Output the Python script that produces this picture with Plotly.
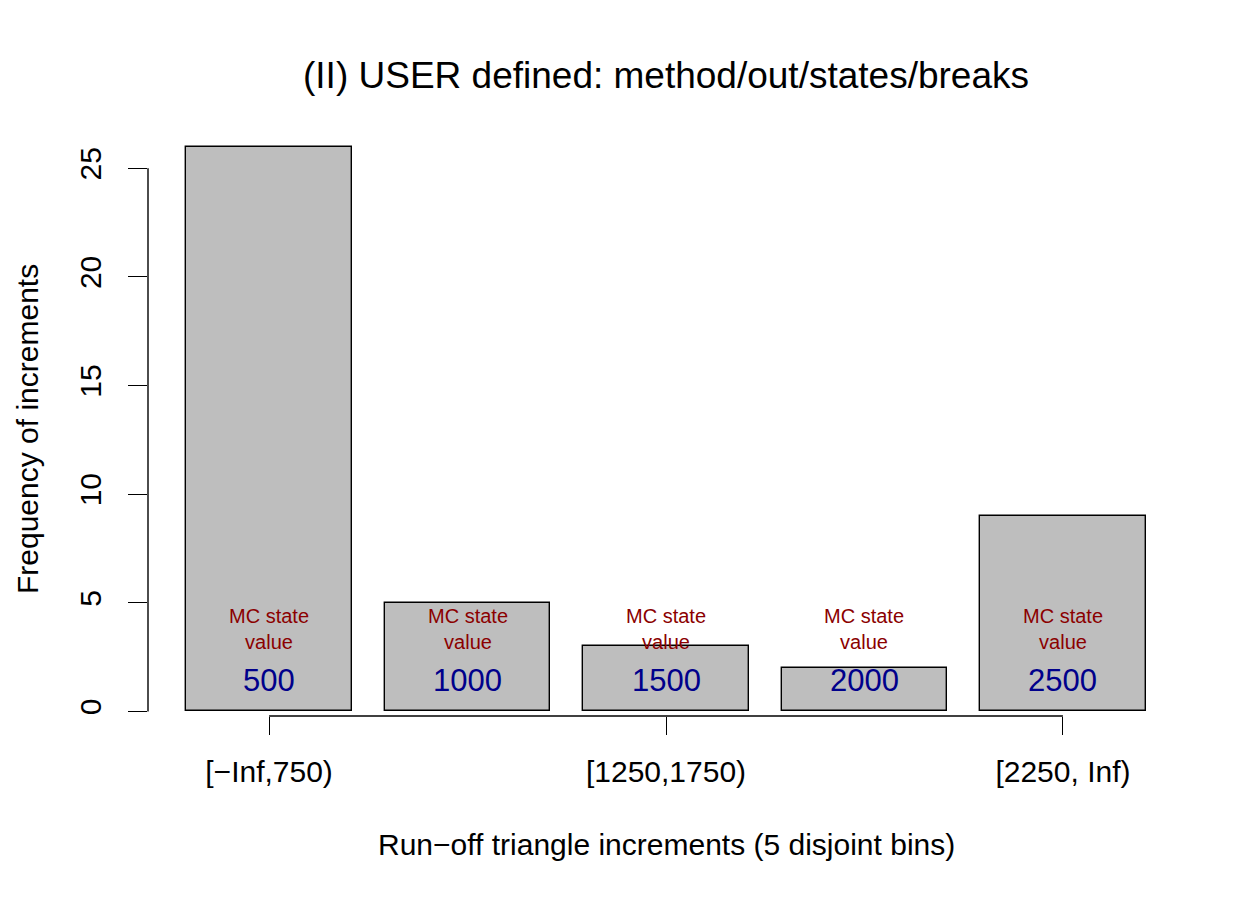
import plotly.graph_objects as go

# ---- data ----
bin_labels = ["[\u2212Inf,750)", "[750,1250)", "[1250,1750)", "[1750,2250)", "[2250, Inf)"]
frequencies = [26, 5, 3, 2, 9]
state_values = [500, 1000, 1500, 2000, 2500]
shown_tick_idx = [0, 2, 4]
y_ticks = [0, 5, 10, 15, 20, 25]

title_text = "(II) USER defined: method/out/states/breaks"
x_title = "Run\u2212off triangle increments (5 disjoint bins)"
y_title = "Frequency of increments"

FONT = "Liberation Sans, Arial, Helvetica, sans-serif"

# R barplot geometry: width 1, space 0.2
n = len(frequencies)
centers = [0.7 + 1.2 * i for i in range(n)]
xlo, xhi = 0.2, 0.2 + 1.2 * n - 0.2
xpad = (xhi - xlo) * 0.04
ymax = max(frequencies)
ypad = ymax * 0.04

W, H = 1260, 900
OFF = 8  # page offset of the rendered figure
ml, mr, mt, mb = 148 - OFF, 76 + OFF, 124 - OFF, 166 + OFF
plot_h = H - mt - mb
plot_w = W - ml - mr


def ypix(p):
    p = p - OFF
    return (H - mb - p) / plot_h


def xpix(p):
    p = p - OFF
    return (p - ml) / plot_w


fig = go.Figure()
fig.add_trace(go.Bar(
    x=centers, y=frequencies, width=1.0,
    marker=dict(color="#BEBEBE", line=dict(color="black", width=1.4)),
    hoverinfo="skip", showlegend=False,
))

annotations = []
for c, v in zip(centers, state_values):
    annotations.append(dict(x=c, y=3.8, xref="x", yref="y", text="MC state<br>value",
                            showarrow=False, font=dict(family=FONT, size=20, color="#8B0000"),
                            xanchor="center", yanchor="middle"))
    annotations.append(dict(x=c, y=1.4, xref="x", yref="y", text=str(v),
                            showarrow=False, font=dict(family=FONT, size=31, color="#00008B"),
                            xanchor="center", yanchor="middle"))

# axis titles
annotations.append(dict(x=0.5, xref="paper", y=ypix(844), yref="paper",
                        text=x_title, showarrow=False, xanchor="center", yanchor="middle",
                        font=dict(family=FONT, size=30, color="black")))
annotations.append(dict(x=xpix(27), xref="paper", y=0.5, yref="paper", text=y_title,
                        showarrow=False, textangle=-90, xanchor="center", yanchor="middle",
                        borderpad=0,
                        font=dict(family=FONT, size=30, color="black")))

xaxis_pos = ypix(716)

shapes = [
    # y axis line from 0 to 25
    dict(type="line", xref="paper", yref="y", x0=0, x1=0, y0=y_ticks[0], y1=y_ticks[-1],
         line=dict(color="black", width=1.4)),
    # x axis line from first to last bar center
    dict(type="line", xref="x", yref="paper", x0=centers[0], x1=centers[-1],
         y0=xaxis_pos, y1=xaxis_pos, line=dict(color="black", width=1.4)),
]

fig.update_layout(
    width=W, height=H,
    margin=dict(l=ml, r=mr, t=mt, b=mb, pad=0),
    paper_bgcolor="white", plot_bgcolor="white",
    font=dict(family=FONT, size=30, color="black"),
    title=dict(text=title_text, x=0.5, xref="paper", y=1 - (75 - OFF) / H, yref="container",
               xanchor="center", yanchor="middle", font=dict(family=FONT, size=37, color="black")),
    bargap=0,
    xaxis=dict(range=[xlo - xpad, xhi + xpad], showgrid=False, zeroline=False, showline=False,
               tickmode="array", tickvals=[centers[i] for i in shown_tick_idx],
               ticktext=[bin_labels[i] for i in shown_tick_idx],
               ticks="outside", ticklen=18, tickwidth=1.4, tickcolor="black",
               anchor="free", position=xaxis_pos, ticklabelstandoff=11,
               tickfont=dict(family=FONT, size=30, color="black")),
    yaxis=dict(range=[-ypad, ymax + ypad], showgrid=False, zeroline=False, showline=False,
               tickmode="array", tickvals=y_ticks, ticktext=[str(t) for t in y_ticks],
               ticks="outside", ticklen=19, tickwidth=1.4, tickcolor="black",
               ticklabelstandoff=15,
               tickangle=-90, tickfont=dict(family=FONT, size=30, color="black")),
    annotations=annotations,
    shapes=shapes,
)

fig.write_html("out.html")
